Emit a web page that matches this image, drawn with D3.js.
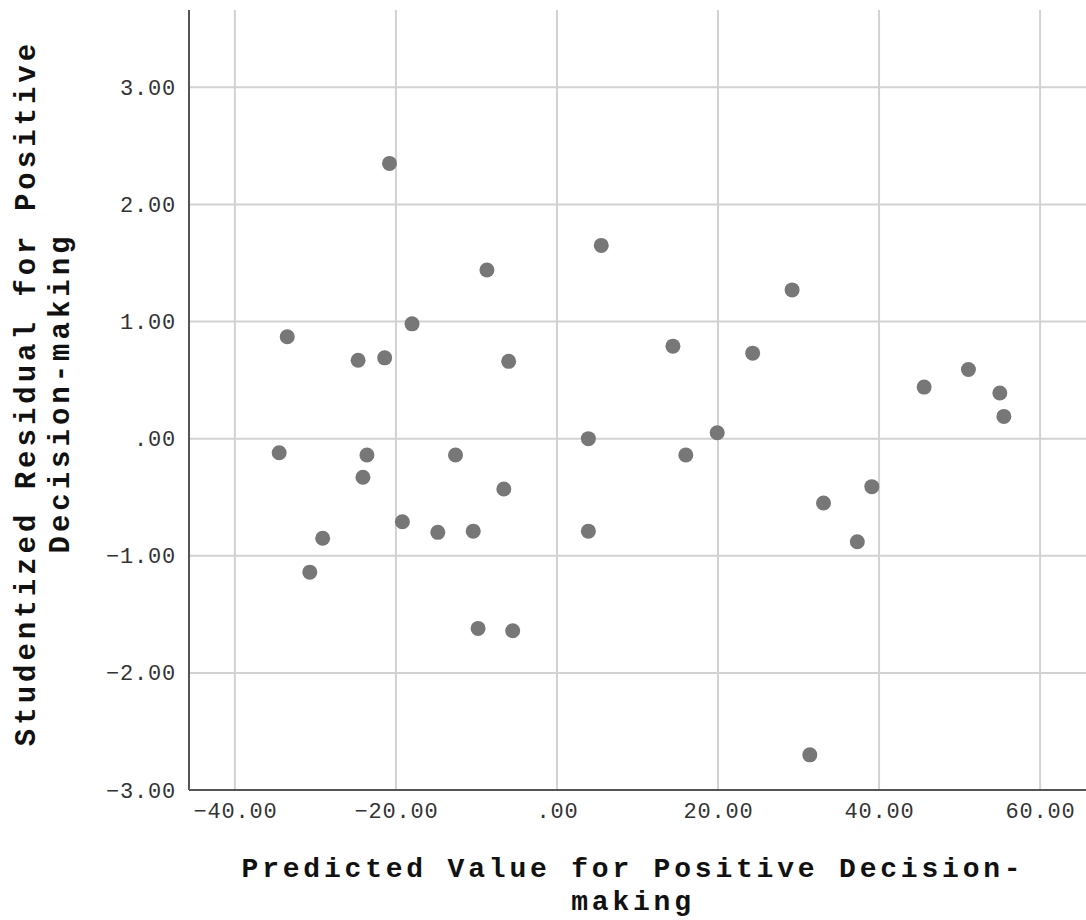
<!DOCTYPE html>
<html>
<head>
<meta charset="utf-8">
<script src="https://cdn.jsdelivr.net/npm/d3@7"></script>
<style>
  body { margin: 0; background: #fff; }
  text { font-family: "Liberation Mono", "Courier New", monospace; }
</style>
</head>
<body>
<div id="chart"></div>
<script>
// predicted values (x) and studentized residuals (y)
const predicted = [-34.5, -33.5, -30.7, -29.1, -24.7, -24.1, -23.6, -21.4, -20.8, -19.2,
    -18.0, -14.8, -12.6, -10.4, -9.8, -8.7, -6.6, -6.0, -5.5, 3.9,
    3.9, 5.5, 14.4, 16.0, 19.9, 24.3, 29.2, 31.4, 33.1, 37.3,
    39.1, 45.6, 51.1, 55.0, 55.5];
const residual = [-0.12, 0.87, -1.14, -0.85, 0.67, -0.33, -0.14, 0.69, 2.35, -0.71,
    0.98, -0.80, -0.14, -0.79, -1.62, 1.44, -0.43, 0.66, -1.64, 0.00,
    -0.79, 1.65, 0.79, -0.14, 0.05, 0.73, 1.27, -2.70, -0.55, -0.88,
    -0.41, 0.44, 0.59, 0.39, 0.19];
const xTicks = [-40, -20, 0, 20, 40, 60];
const yTicks = [-3, -2, -1, 0, 1, 2, 3];
const xTitle = ["Predicted Value for Positive Decision-", "making"];
const yTitle = ["Studentized Residual for Positive", "Decision-making"];

const width = 1086, height = 920;
const plotLeft = 189, plotRight = 1086, plotTop = 10, plotBottom = 790;

const fmt = v => v === 0 ? ".00" : d3.format(".2f")(v);

let svg = d3.select("#chart").append("svg").attr("width", width).attr("height", height);

let x = d3.scaleLinear().domain([-45.7, 65.7]).range([plotLeft, plotRight]);
let y = d3.scaleLinear().domain([-3.0, 3.66]).range([plotBottom, plotTop]);

// grid
svg.append("g").selectAll("line").data(xTicks).join("line")
    .attr("x1", d => x(d)).attr("x2", d => x(d))
    .attr("y1", plotTop).attr("y2", plotBottom)
    .attr("stroke", "#d2d2d2").attr("stroke-width", 2);
svg.append("g").selectAll("line").data(yTicks.filter(d => d > -3)).join("line")
    .attr("x1", plotLeft).attr("x2", plotRight)
    .attr("y1", d => y(d)).attr("y2", d => y(d))
    .attr("stroke", "#d2d2d2").attr("stroke-width", 2);

// axes
let xAxis = svg.append("g").attr("transform", `translate(0,${plotBottom})`)
    .call(d3.axisBottom(x).tickValues(xTicks).tickFormat(fmt).tickSize(0).tickPadding(12));
let yAxis = svg.append("g").attr("transform", `translate(${plotLeft},0)`)
    .call(d3.axisLeft(y).tickValues(yTicks).tickFormat(fmt).tickSize(0).tickPadding(13));
[xAxis, yAxis].forEach(a => {
    a.select(".domain").attr("stroke", "#555").attr("stroke-width", 2);
    a.selectAll("text").attr("font-family", "Liberation Mono").attr("font-size", 22)
        .attr("letter-spacing", 0.8).attr("fill", "#333");
});
yAxis.select(".domain").attr("d", `M0,${plotTop}V${plotBottom}`);
xAxis.select(".domain").attr("d", `M${plotLeft},0H${plotRight}`);

// points
svg.append("g").selectAll("circle").data(predicted).join("circle")
    .attr("cx", d => x(d))
    .attr("cy", (d, i) => y(residual[i]))
    .attr("r", 7.5)
    .attr("fill", "#777");

// axis titles
svg.append("g").selectAll("text").data(xTitle).join("text")
    .attr("x", 633).attr("y", (d, i) => 877 + i * 33)
    .attr("text-anchor", "middle")
    .attr("font-size", 28).attr("letter-spacing", 3.8)
    .attr("font-weight", "bold").attr("fill", "#111")
    .text(d => d);

svg.append("g").attr("transform", "translate(0,393) rotate(-90)")
    .selectAll("text").data(yTitle).join("text")
    .attr("x", 0).attr("y", (d, i) => 35 + i * 34)
    .attr("text-anchor", "middle")
    .attr("font-size", 29).attr("letter-spacing", 4)
    .attr("font-weight", "bold").attr("fill", "#111")
    .text(d => d);
</script>
</body>
</html>
